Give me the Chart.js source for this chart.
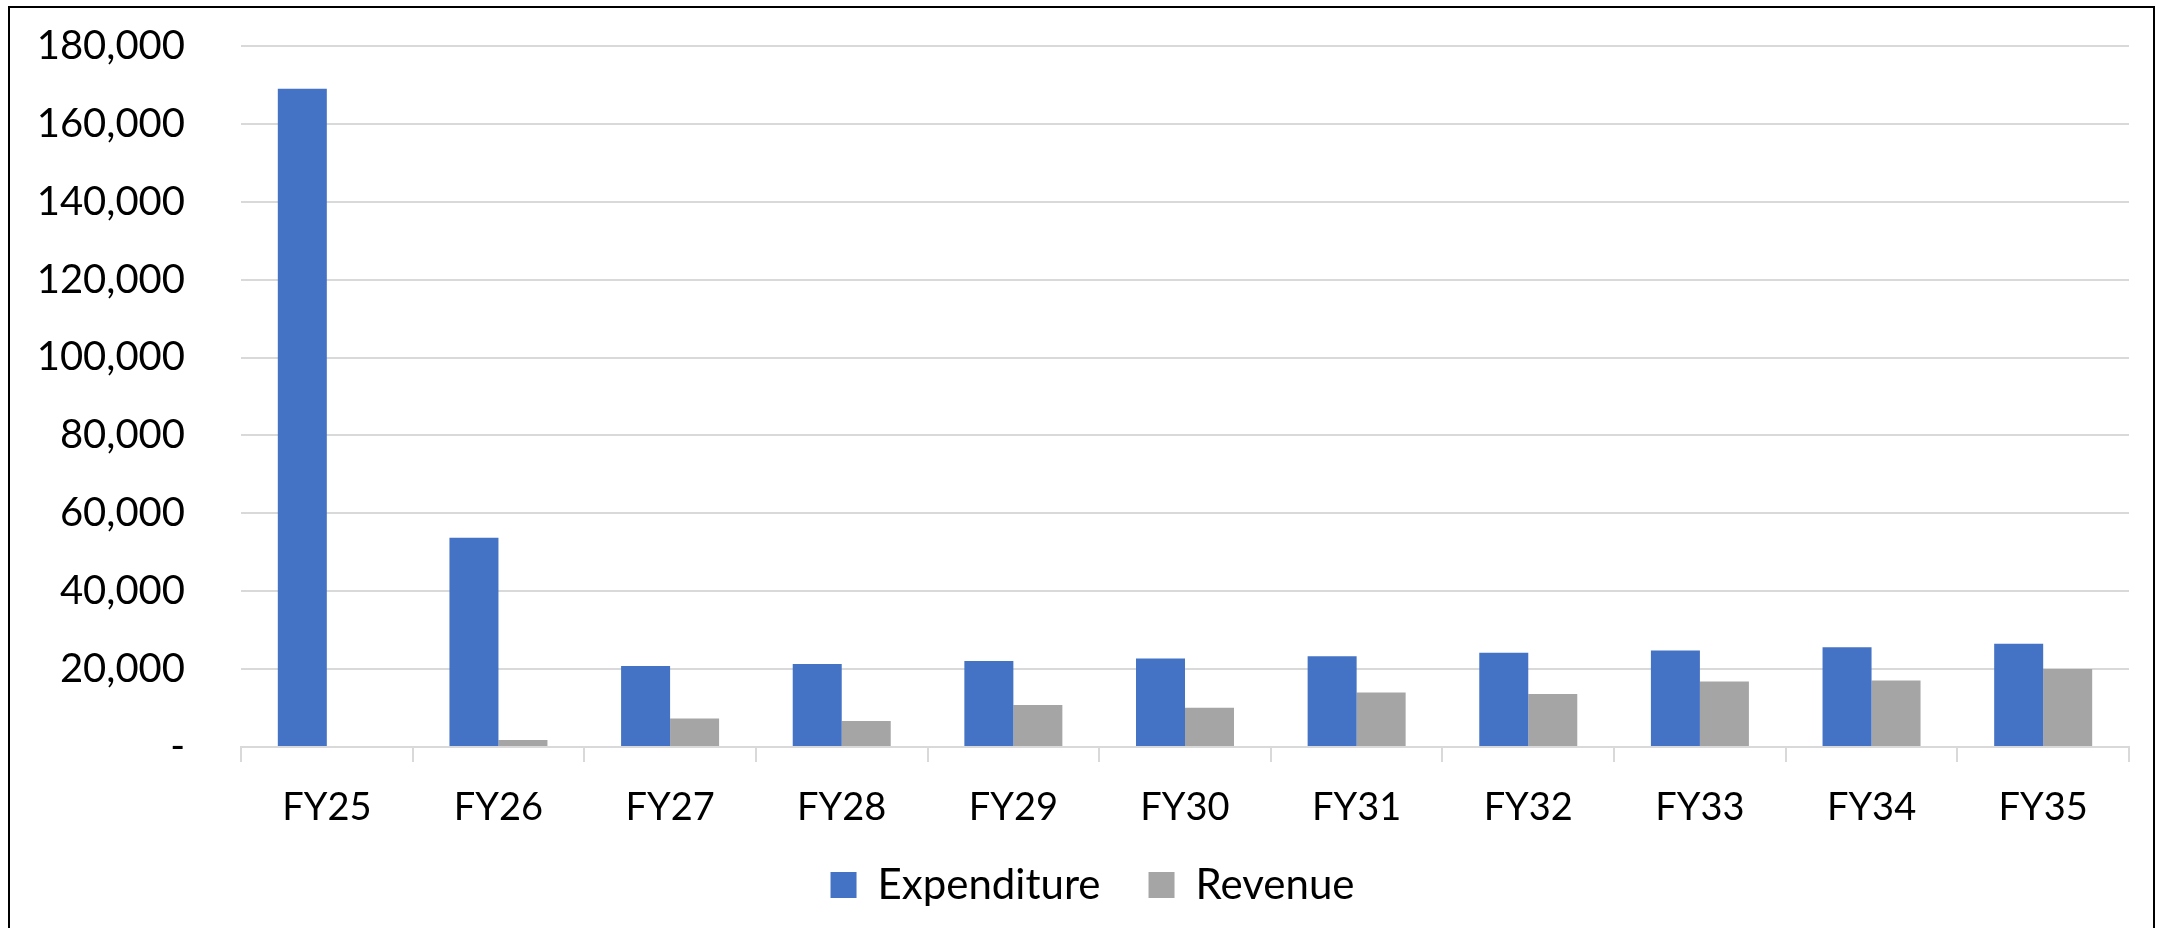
<!DOCTYPE html>
<html>
<head>
<meta charset="utf-8">
<script src="https://cdn.jsdelivr.net/npm/chart.js@4.4.1/dist/chart.umd.min.js"></script>
<style>
  html, body { margin: 0; padding: 0; background: #ffffff; overflow: hidden; width: 2158px; height: 928px; }
  #wrap { position: absolute; left: 0; top: 0; width: 2158px; height: 928px; }
  #frame { position: absolute; left: 8px; top: 6px; width: 2147px; height: 1000px; box-sizing: border-box; border: 2px solid #000; pointer-events: none; }
</style>
</head>
<body>
<div id="wrap"><canvas id="c" width="2158" height="928"></canvas></div>
<div id="frame"></div>
<script>
const categories = ['FY25', 'FY26', 'FY27', 'FY28', 'FY29', 'FY30', 'FY31', 'FY32', 'FY33', 'FY34', 'FY35'];
const expenditure = [169000, 53700, 20800, 21300, 22100, 22700, 23300, 24200, 24800, 25600, 26500];
const revenue = [0, 1800, 7300, 6700, 10800, 10100, 14000, 13600, 16800, 17100, 20000];
const yTickValues = [0, 20000, 40000, 60000, 80000, 100000, 120000, 140000, 160000, 180000];
const yTickLabels = ['-', '20,000', '40,000', '60,000', '80,000', '100,000', '120,000', '140,000', '160,000', '180,000'];

const FONT = 'Lato, "Open Sans", sans-serif';
const LEGEND_DX = 28;
const LEGEND_DY = -12;

const legendShift = {
  id: 'legendShift',
  afterLayout(chart) {
    const lg = chart.legend;
    if (lg) {
      lg.left += LEGEND_DX; lg.right += LEGEND_DX;
      lg.top += LEGEND_DY; lg.bottom += LEGEND_DY;
    }
  }
};

new Chart(document.getElementById('c'), {
  type: 'bar',
  data: {
    labels: categories,
    datasets: [
      { label: 'Expenditure', data: expenditure, backgroundColor: '#4472C4', borderWidth: 0 },
      { label: 'Revenue', data: revenue, backgroundColor: '#A5A5A5', borderWidth: 0 }
    ]
  },
  options: {
    responsive: false,
    animation: false,
    maintainAspectRatio: false,
    categoryPercentage: 0.571,
    barPercentage: 1.0,
    layout: { padding: { left: 0, top: 46, right: 29, bottom: 0 } },
    plugins: {
      tooltip: { enabled: false },
      legend: {
        position: 'bottom',
        labels: {
          color: '#000',
          font: { family: FONT, size: 42 },
          boxWidth: 26,
          boxHeight: 26,
          padding: 48
        }
      }
    },
    scales: {
      x: {
        grid: { offset: true, drawOnChartArea: false, drawTicks: true, tickLength: 15, color: '#D9D9D9', lineWidth: 2 },
        border: { display: true, color: '#D9D9D9', width: 2 },
        ticks: { color: '#000', font: { family: FONT, size: 38 }, padding: 23, maxRotation: 0, autoSkip: false },
        afterFit(scale) { scale.height = 81; }
      },
      y: {
        min: 0,
        max: 180000,
        grid: { color: '#D9D9D9', lineWidth: 2, drawTicks: true, tickLength: 56, tickColor: 'rgba(0,0,0,0)' },
        border: { display: false },
        afterBuildTicks(scale) { scale.ticks = yTickValues.map(v => ({ value: v })); },
        ticks: {
          color: '#000',
          font: { family: FONT, size: 40 },
          padding: 0,
          callback(value) { const i = yTickValues.indexOf(value); return i >= 0 ? yTickLabels[i] : ''; }
        },
        afterFit(scale) { scale.width = 241; }
      }
    }
  },
  plugins: [legendShift]
});
</script>
</body>
</html>
